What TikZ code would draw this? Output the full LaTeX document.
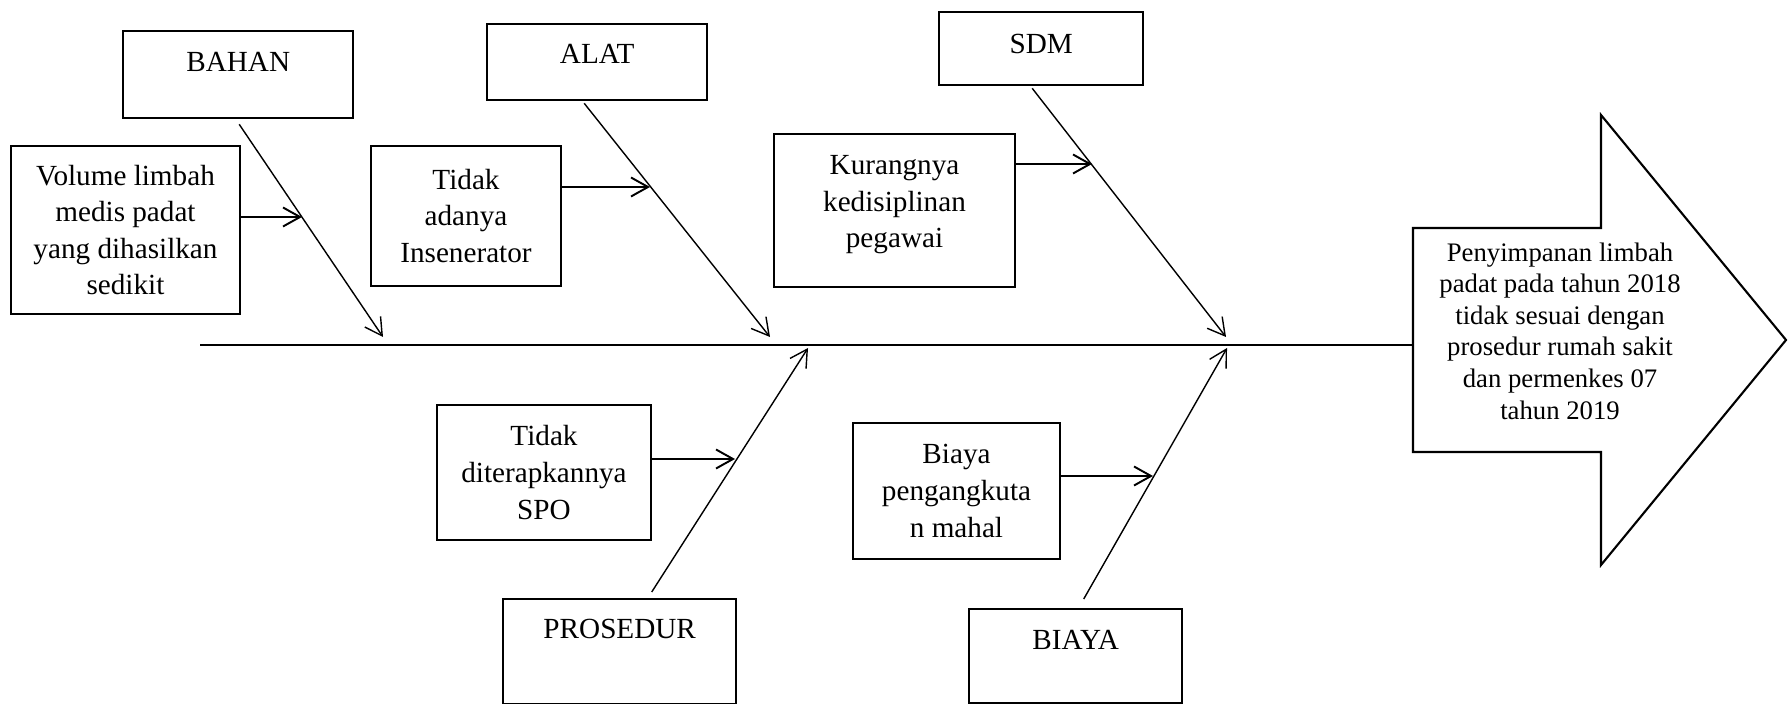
\documentclass[tikz,border=0pt]{standalone}
\usepackage{fontspec}
\setmainfont{Liberation Serif}
\usetikzlibrary{arrows.meta}

\begin{document}
\begin{tikzpicture}[
  x=0.01cm, y=-0.01cm,
  box/.style={draw, line width=0.65pt, align=center, inner sep=0pt, font=\fontsize{8.3}{10.4}\selectfont},
  cat/.style={box, anchor=north west},
  arr/.style={-{Straight Barb[length=1.7mm,width=1.9mm]}, line width=0.55pt},
  bone/.style={arr, line width=0.4pt},
]
\useasboundingbox (0,0) rectangle (1789,704);
% category boxes
\node[cat, minimum width=2.3cm, text height=0.40cm, text depth=0.47cm] (bahan) at (122,30) {BAHAN};
\node[cat, minimum width=2.2cm, text height=0.39cm, text depth=0.37cm] (alat) at (486,23) {ALAT};
\node[cat, minimum width=2.04cm, text height=0.41cm, text depth=0.32cm] (sdm) at (938,11) {SDM};
\node[cat, minimum width=2.33cm, text height=0.39cm, text depth=0.66cm] (prosedur) at (502,598) {PROSEDUR};
\node[cat, minimum width=2.13cm, text height=0.40cm, text depth=0.54cm] (biaya) at (968,608) {BIAYA};
% causes
\node[box, minimum width=2.29cm, minimum height=1.68cm] (volume) at (125.5,230) {Volume limbah\\medis padat\\yang dihasilkan\\sedikit};
\node[box, minimum width=1.9cm, minimum height=1.4cm] (inse) at (466,216) {Tidak\\adanya\\Insenerator};
\node[box, minimum width=2.41cm, minimum height=1.53cm] (disiplin) at (894.5,210.5) {Kurangnya\\kedisiplinan\\pegawai\\[-0.19cm]};
\node[box, minimum width=2.14cm, minimum height=1.35cm] (spo) at (544,472.5) {Tidak\\diterapkannya\\SPO};
\node[box, minimum width=2.07cm, minimum height=1.36cm] (angkut) at (956.5,491) {Biaya\\pengangkuta\\n mahal};
% effect
\node[font=\fontsize{7.6}{9}\selectfont, align=center, inner sep=0pt] (akibat) at (1560,331) {Penyimpanan limbah\\padat pada tahun 2018\\tidak sesuai dengan\\prosedur rumah sakit\\dan permenkes 07\\tahun 2019};
\draw[line width=0.6pt] (1413,228) -- (1601,228) -- (1601,115) -- (1786,340) -- (1601,565) -- (1601,452) -- (1413,452) -- cycle;
% spine
\coordinate (ekor) at (200,345);
\coordinate (kepala) at (1413,345);
\draw[line width=0.35pt] (ekor) -- (kepala);
% bones
\coordinate (bahan-end) at (383,337);
\coordinate (alat-end) at (770,337);
\coordinate (sdm-end) at (1226,337);
\coordinate (prosedur-end) at (808,348);
\coordinate (biaya-end) at (1227,348);
\draw[bone] ([shift={(1,5)}]bahan.south) -- (bahan-end);
\draw[bone] ([shift={(-13,2)}]alat.south) -- (alat-end);
\draw[bone] ([shift={(-9,2)}]sdm.south) -- (sdm-end);
\draw[bone] ([shift={(32,-6)}]prosedur.north) -- (prosedur-end);
\draw[bone] ([shift={(8,-9)}]biaya.north) -- (biaya-end);
% cause arrows
\coordinate (bv) at (302,217);
\coordinate (bi) at (650,187);
\coordinate (bd) at (1092,164);
\coordinate (bs) at (735,459);
\coordinate (ba) at (1153,476);
\draw[arr] (volume.east |- bv) -- (bv);
\draw[arr] (inse.east |- bi) -- (bi);
\draw[arr] (disiplin.east |- bd) -- (bd);
\draw[arr] (spo.east |- bs) -- (bs);
\draw[arr] (angkut.east |- ba) -- (ba);
\end{tikzpicture}
\end{document}
